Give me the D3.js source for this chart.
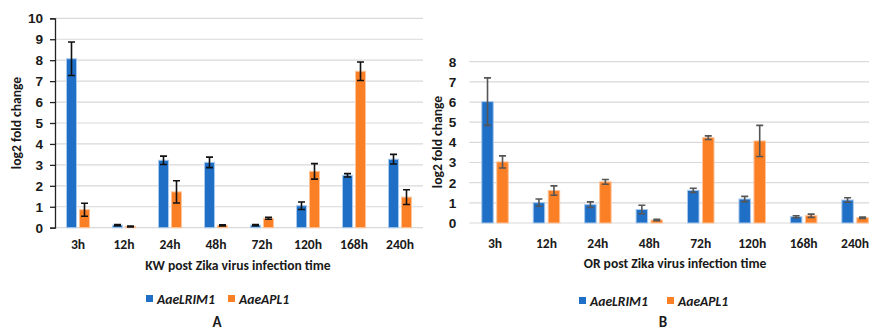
<!DOCTYPE html>
<html><head><meta charset="utf-8">
<script src="https://cdn.jsdelivr.net/npm/d3@7"></script>
<style>
html,body{margin:0;padding:0;background:#fff;}
svg{display:block;font-family:Carlito, Calibri, Lato, "Open Sans", sans-serif;}
</style></head>
<body><svg id="c" width="869" height="331"></svg>
<script>
const categories = ["3h","12h","24h","48h","72h","120h","168h","240h"];
const seriesNames = ["AaeLRIM1","AaeAPL1"];
// Panel A (KW)
const kwLRIM1 = [8.07,0.12,3.22,3.12,0.12,1.05,2.5,3.27];
const kwLRIM1Err = [0.8,0.03,0.2,0.25,0.03,0.18,0.08,0.23];
const kwAPL1 = [0.86,0.06,1.71,0.11,0.45,2.69,7.47,1.46];
const kwAPL1Err = [0.31,0.02,0.53,0.03,0.05,0.37,0.44,0.35];
const kwTicks = [0,1,2,3,4,5,6,7,8,9,10];
// Panel B (OR)
const orLRIM1 = [6.02,1.01,0.91,0.67,1.62,1.19,0.31,1.14];
const orLRIM1Err = [1.18,0.18,0.14,0.21,0.1,0.13,0.05,0.11];
const orAPL1 = [3.03,1.61,2.04,0.15,4.23,4.07,0.36,0.26];
const orAPL1Err = [0.3,0.23,0.12,0.03,0.09,0.77,0.08,0.04];
const orTicks = [0,1,2,3,4,5,6,7,8];

const colors = ["#1f6fc6","#fb7f24"];
const strokes = ["#a9c9ec","#fdc49a"];
const svg = d3.select("#c");
const FS = 13.6;

function panel(o){
  const g = svg.append("g");
  const x = d3.scaleBand().domain(categories).range([o.x0,o.x1]);
  const y = d3.scaleLinear().domain([0,o.ymax]).range([o.y0,o.y1]);
  g.selectAll(".grid").data(o.ticks).join("line")
    .attr("x1",o.x0).attr("x2",o.gridEnd)
    .attr("y1",d=>y(d)).attr("y2",d=>y(d))
    .attr("stroke","#d9d9d9").attr("stroke-width",1.2);
  const ax = d3.axisLeft(y).tickValues(o.ticks).tickFormat(d3.format("d")).tickSize(o.axisLine?5:0).tickPadding(o.axisLine?7:13);
  const ag = g.append("g").attr("transform",`translate(${o.x0},0)`).call(ax);
  ag.select(".domain").attr("stroke",o.axisLine?"#222":"none").attr("stroke-width",1.3);
  ag.selectAll(".tick line").attr("stroke","#222").attr("stroke-width",1.3);
  ag.selectAll("text").attr("font-size",FS).attr("font-weight","bold").attr("fill","#1a1a1a").attr("font-family","inherit");
  const vals=[o.s1,o.s2], errs=[o.e1,o.e2];
  const bw=o.bw, gap=o.gap;
  vals.forEach((arr,si)=>{
    const off = si===0 ? -gap/2-bw : gap/2;
    g.selectAll(".b"+si).data(arr).join("rect")
      .attr("x",(d,i)=>x(categories[i])+x.bandwidth()/2+off)
      .attr("width",bw)
      .attr("y",d=>y(d)).attr("height",d=>y(0)-y(d))
      .attr("fill",colors[si]).attr("stroke",strokes[si]).attr("stroke-width",1);
    g.selectAll(".e"+si).data(arr).join("path")
      .attr("d",(d,i)=>{
        const cx = x(categories[i])+x.bandwidth()/2+off+bw/2;
        const t=y(d+errs[si][i]), b=y(Math.max(0,d-errs[si][i])), c=o.cap;
        return `M${cx},${t}V${b}M${cx-c},${t}H${cx+c}M${cx-c},${b}H${cx+c}`;
      })
      .attr("stroke",o.errColor).attr("stroke-width",1.6).attr("fill","none");
  });
  g.selectAll(".xl").data(categories).join("text")
    .attr("x",d=>x(d)+x.bandwidth()/2).attr("y",o.xlY)
    .attr("text-anchor","middle").attr("font-size",FS).attr("font-weight","bold").attr("fill","#1a1a1a")
    .text(d=>d);
  g.append("text").attr("x",o.titleX).attr("y",o.titleY).attr("text-anchor","middle")
    .attr("font-size",FS).attr("font-weight","bold").attr("fill","#1a1a1a").text(o.title);
  g.append("text").attr("transform",`translate(${o.ylX},${o.ylY}) rotate(-90)`)
    .attr("text-anchor","middle").attr("font-size",FS).attr("font-weight","bold").attr("fill","#1a1a1a")
    .text("log2 fold change");
  const lg = g.append("g");
  seriesNames.forEach((n,i)=>{
    lg.append("rect").attr("x",o.leg[i]).attr("y",o.legY-4).attr("width",7).attr("height",7).attr("fill",colors[i]);
    lg.append("text").attr("x",o.leg[i]+11).attr("y",o.legY+4.5).attr("font-size",FS)
      .attr("font-weight","bold").attr("font-style","italic").attr("fill","#1a1a1a").text(n);
  });
  g.append("text").attr("x",o.letterX).attr("y",327).attr("text-anchor","middle")
    .attr("font-size",15).attr("font-weight","bold").attr("fill","#1a1a1a").text(o.letter);
}

panel({x0:55,x1:423,gridEnd:423,y0:227.7,y1:18.3,ymax:10,ticks:kwTicks,axisLine:true,
  s1:kwLRIM1,s2:kwAPL1,e1:kwLRIM1Err,e2:kwAPL1Err,bw:10,gap:3,cap:3.5,errColor:"#111",
  xlY:249,title:"KW post Zika virus infection time",titleX:238,titleY:270,ylX:21,ylY:123,
  leg:[146,228],legY:299,letter:"A",letterX:217});
panel({x0:469.3,x1:880.8,gridEnd:880,y0:223,y1:61.7,ymax:8,ticks:orTicks,axisLine:false,
  s1:orLRIM1,s2:orAPL1,e1:orLRIM1Err,e2:orAPL1Err,bw:11.5,gap:3.5,cap:3.5,errColor:"#555",
  xlY:248,title:"OR post Zika virus infection time",titleX:675,titleY:268,ylX:442,ylY:142,
  leg:[579,667],legY:301,letter:"B",letterX:663});
</script></body></html>
